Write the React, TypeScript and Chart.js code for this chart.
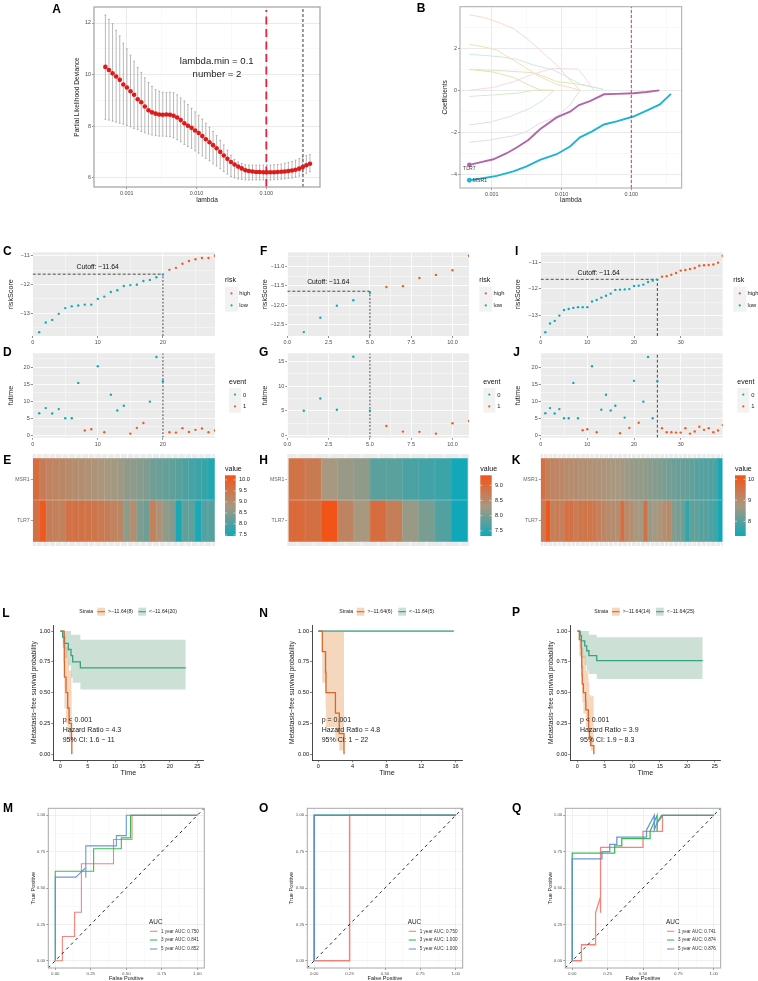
import React, { useEffect, useRef } from 'react';
import { Chart, registerables } from 'chart.js';
Chart.register(...registerables);

const FONT = '"Liberation Sans", Arial, sans-serif';
Chart.defaults.font.family = FONT;

// ---------- Panel A: cross-validation curve ----------
const cvLogLambda = [-3.305,-3.254,-3.202,-3.151,-3.099,-3.048,-2.997,-2.945,-2.894,-2.842,-2.791,-2.740,-2.688,-2.637,-2.585,-2.534,-2.483,-2.431,-2.380,-2.328,-2.277,-2.226,-2.174,-2.123,-2.071,-2.020,-1.969,-1.917,-1.866,-1.814,-1.763,-1.712,-1.660,-1.609,-1.557,-1.506,-1.455,-1.403,-1.352,-1.300,-1.249,-1.198,-1.146,-1.095,-1.043,-0.992,-0.941,-0.889,-0.838,-0.786,-0.735,-0.684,-0.632,-0.581,-0.529,-0.478,-0.427,-0.375];
const cvMean = [10.30,10.18,10.05,9.93,9.80,9.62,9.50,9.36,9.22,9.05,8.93,8.77,8.62,8.54,8.49,8.46,8.45,8.46,8.45,8.41,8.34,8.24,8.12,8.02,7.94,7.84,7.74,7.62,7.50,7.38,7.27,7.15,7.01,6.87,6.74,6.62,6.52,6.44,6.37,6.30,6.27,6.25,6.23,6.23,6.22,6.22,6.22,6.22,6.23,6.24,6.25,6.27,6.29,6.32,6.36,6.42,6.49,6.55];
const cvUpper = [12.31,12.14,11.97,11.72,11.50,11.22,11.00,10.75,10.52,10.28,10.08,9.88,9.70,9.55,9.42,9.36,9.32,9.31,9.32,9.30,9.22,9.10,8.98,8.84,8.70,8.56,8.42,8.28,8.12,7.96,7.80,7.64,7.46,7.28,7.08,6.88,6.72,6.62,6.56,6.52,6.50,6.50,6.50,6.50,6.50,6.50,6.50,6.51,6.52,6.54,6.57,6.60,6.64,6.69,6.75,6.82,6.87,6.90];
const cvLower = [8.27,8.24,8.20,8.16,8.12,8.08,8.03,7.98,7.92,7.87,7.80,7.75,7.70,7.66,7.64,7.62,7.62,7.61,7.60,7.56,7.48,7.40,7.30,7.22,7.15,7.05,6.96,6.85,6.76,6.66,6.55,6.46,6.36,6.25,6.15,6.06,6.00,5.96,5.94,5.93,5.92,5.92,5.92,5.92,5.92,5.92,5.92,5.93,5.94,5.95,5.96,5.98,6.00,6.03,6.07,6.12,6.18,6.24];
const lambdaMin = -1;
const lambda1se = -0.475;

// ---------- Panel B: coefficient paths ----------
const msr1X = [-3.32,-3.167,-2.928,-2.69,-2.499,-2.308,-2.069,-1.878,-1.735,-1.568,-1.391,-1.21,-0.971,-0.78,-0.59,-0.432];
const msr1Y = [-4.29,-4.22,-4.08,-3.87,-3.63,-3.32,-3.05,-2.68,-2.24,-1.97,-1.63,-1.48,-1.25,-0.97,-0.67,-0.17];
const tlr7X = [-3.32,-3.167,-2.976,-2.785,-2.642,-2.475,-2.308,-2.069,-1.878,-1.749,-1.592,-1.391,-1.21,-0.971,-0.78,-0.599];
const tlr7Y = [-3.56,-3.44,-3.29,-3.0,-2.73,-2.37,-1.86,-1.29,-1.02,-0.70,-0.51,-0.19,-0.17,-0.14,-0.08,0];
const paleA_X = [-3.32,-3.119,-2.881,-2.69,-2.499,-2.308,-2.069,-1.878,-1.735];
const paleA_Y = [3.60,3.48,3.22,2.95,2.48,1.92,1.21,0.49,0];
const paleB_X = [-3.32,-3.119,-2.928,-2.69,-2.499,-2.308,-2.069,-1.878,-1.735];
const paleB_Y = [2.19,2.08,1.92,1.44,1.05,0.65,0.29,0.14,0];
const paleC_X = [-3.32,-3.119,-2.881,-2.642,-2.403,-2.117,-1.926,-1.735,-1.401];
const paleC_Y = [1.71,1.67,1.60,1.48,1.21,0.97,0.65,0.30,0.05];
const paleD_X = [-3.32,-2.881,-2.403,-2.212,-2.069,-1.831,-1.64,-1.401];
const paleD_Y = [1.0,0.94,0.84,0.62,0.41,0.33,0.21,0.05];
const paleE_X = [-3.32,-2.976,-2.69,-2.499,-2.308,-2.117];
const paleE_Y = [1.0,0.87,0.62,0.30,0.02,0];
const paleF_X = [-3.32,-2.976,-2.69,-2.403,-2.117,-1.878,-1.759,-1.64,-1.535];
const paleF_Y = [0,0.14,0.41,0.78,1.05,1.02,1.02,0.49,0];
const paleG_X = [-3.32,-2.976,-2.642,-2.403,-2.117];
const paleG_Y = [-0.29,-0.22,-0.14,0,0];
const paleH_X = [-3.32,-3.024,-2.737,-2.451,-2.26,-2.107];
const paleH_Y = [-1.65,-1.52,-1.25,-0.86,-0.46,0];
const paleI_X = [-3.32,-3.024,-2.69,-2.499,-2.308,-2.069,-1.878,-1.735];
const paleI_Y = [-2.48,-2.37,-2.17,-1.97,-1.57,-1.25,-0.70,0];
const paleColors = ['#f9d9ca','#f6deba','#cdeadf','#dde7bd','#e8e0b8','#f8dae3','#d8e8cc','#d4e3f4','#dfdef2'];

// ---------- Panels C-K: risk score, follow-up, heat maps ----------
const riskC = [-13.66,-13.32,-13.23,-13.02,-12.82,-12.76,-12.73,-12.70,-12.70,-12.5,-12.42,-12.26,-12.2,-12.05,-12.02,-12.01,-11.88,-11.84,-11.75,-11.65,-11.49,-11.42,-11.28,-11.18,-11.12,-11.08,-11.08,-11.0];
const futimeC = [6.5,8.0,6.4,7.7,5,5,15.4,1.4,1.8,20.3,0.9,11.9,7.3,8.7,0.5,2.2,3.6,9.9,23,15.9,0.9,0.8,2.1,1.0,1.6,2.0,0.9,1.4];
const eventC = [0,0,0,0,0,0,0,1,1,0,1,0,0,0,1,1,1,0,0,0,1,1,1,1,1,1,1,1];
const msrC = [9.7,9.4,9.25,9.2,9.15,9.1,9.05,9.0,8.95,8.9,8.85,8.8,8.75,8.7,8.6,8.55,8.5,8.45,8.3,8.25,8.2,8.15,8.1,8.0,7.9,7.85,7.8,7.6];
const tlrC = [9.6,10.15,9.35,9.3,9.3,9.6,9.6,9.6,9.55,9.5,9.45,9.35,9.25,9.15,8.55,9.05,8.4,8.3,9.3,8.95,8.6,8.45,7.55,8.15,8.15,7.55,8.05,8.05];

const riskF = [-12.69,-12.32,-12.01,-11.87,-11.68,-11.53,-11.51,-11.3,-11.22,-11.10,-10.73];
const futimeF = [5,7.5,5.2,16,5,1.9,0.75,0.7,0.35,2.45,2.9];
const eventF = [0,0,0,0,0,1,1,1,1,1,1];
const msrF = [8.85,8.75,8.3,8.2,8.15,7.8,7.8,7.7,7.65,7.6,7.35];
const tlrF = [9.0,8.9,9.33,8.6,8.3,8.95,8.7,8.2,8.0,7.75,7.33];

const riskI = [-13.64,-13.31,-13.21,-13.01,-12.8,-12.76,-12.72,-12.69,-12.69,-12.69,-12.48,-12.42,-12.33,-12.26,-12.18,-12.04,-12.03,-12.02,-12.01,-11.89,-11.88,-11.84,-11.74,-11.69,-11.65,-11.54,-11.52,-11.47,-11.4,-11.31,-11.29,-11.25,-11.21,-11.13,-11.11,-11.1,-11.08,-11.01,-10.75];
const futimeI = [6.5,8,6.4,7.7,5,5,15.4,5,1.5,1.8,20.3,0.9,7.5,11.9,7.3,8.7,0.6,5.2,2.2,16,3.7,9.9,23,5,15.9,2.1,0.9,0.9,0.8,0.8,2.1,0.5,1.1,2.5,1.6,2.1,0.9,1.4,3.0];
const eventI = [0,0,0,0,0,0,0,0,1,1,0,1,0,0,0,0,1,0,1,0,1,0,0,0,0,1,1,1,1,1,1,1,1,1,1,1,1,1,1];
const msrI = [9.6,9.25,9.2,9.15,9.1,9.05,9.0,9.0,8.95,8.95,8.9,8.9,8.85,8.85,8.8,8.75,8.75,8.7,8.65,8.6,8.55,8.55,8.5,8.45,8.4,8.35,8.3,8.25,8.2,8.15,8.15,8.1,8.05,8.0,7.95,7.95,7.9,7.85,7.35];
const tlrI = [9.35,10.15,9.3,9.35,9.25,9.6,9.6,9.35,9.5,9.5,9.5,9.45,9.25,9.15,9.05,9.0,8.95,9.55,9.05,8.95,8.8,8.7,9.55,8.6,8.7,8.8,8.95,9.05,8.4,8.3,8.2,7.6,8.05,8.05,7.95,8.0,7.85,7.75,7.32];

// ---------- Panels L, N, P: survival curves ----------
const kmLHighT = [0,0.7,0.72,0.75,1.04,1.35,1.6,2.05,2.1];
const kmLHighS = [1,0.875,0.75,0.625,0.5,0.375,0.25,0.125,0];
const kmLHighU = [1,1,1,0.96,0.87,0.78,0.68,0.52,0.52];
const kmLHighD = [1,0.72,0.55,0.37,0.25,0.2,0.1,0.08,0.08];
const kmLLowT = [0,0.43,0.73,1.46,1.95,2.25,3.66,22.9];
const kmLLowS = [1,0.95,0.9,0.85,0.8,0.75,0.7,0.7];
const kmLLowU = [1,1,1,1,0.97,0.97,0.93,0.93];
const kmLLowD = [1,0.86,0.78,0.72,0.62,0.58,0.525,0.525];

const kmNHighT = [0,0.47,0.85,0.9,2.0,2.45,3.0];
const kmNHighS = [1,0.833,0.667,0.5,0.333,0.167,0];
const kmNHighU = [1,1,1,1,1,1,1];
const kmNHighD = [1,0.58,0.38,0.22,0.1,0.03,0.03];
const kmNLowT = [0,15.8];
const kmNLowS = [1,1];

const kmPHighT = [0,0.36,0.7,0.75,0.8,0.85,0.9,1.1,1.5,1.55,2.0,2.05,2.2,2.45,3.0];
const kmPHighS = [1,0.93,0.86,0.79,0.71,0.64,0.57,0.5,0.43,0.36,0.29,0.21,0.14,0.07,0];
const kmPHighU = [1,1,0.98,0.95,0.92,0.9,0.86,0.8,0.72,0.68,0.62,0.58,0.48,0.47,0.47];
const kmPHighD = [1,0.8,0.7,0.62,0.55,0.48,0.42,0.33,0.27,0.22,0.17,0.12,0.07,0.03,0.03];
const kmPLowT = [0,0.5,0.75,1.35,1.7,2.1,3.53,22.8];
const kmPLowS = [1,0.96,0.92,0.88,0.84,0.8,0.76,0.76];
const kmPLowU = [1,1,1,1,1,0.97,0.95,0.95];
const kmPLowD = [1,0.87,0.78,0.72,0.68,0.65,0.61,0.61];

// ---------- Panels M, O, Q: ROC curves ----------
const rocM1x = [0,0.05,0.05,0.136,0.136,0.184,0.184,0.41,0.41,0.54,0.54,1];
const rocM1y = [0,0,0.167,0.167,0.333,0.333,0.667,0.667,0.833,0.833,1,1];
const rocM3x = [0,0,0.27,0.27,0.465,0.465,0.53,0.53,1];
const rocM3y = [0,0.615,0.615,0.77,0.77,0.845,0.845,1,1];
const rocM5x = [0,0,0.145,0.215,0.215,0.215,0.43,0.43,0.5,0.5,1];
const rocM5y = [0,0.575,0.575,0.64,0.57,0.79,0.79,0.86,0.86,1,1];
const rocO1x = [0,0.25,0.25,1];
const rocO1y = [0,0,1,1];
const rocO3x = [0,0,1];
const rocO3y = [0,1,1];
const rocO5x = [0,0,1];
const rocO5y = [0,1,1];
const rocQ1x = [0,0.065,0.065,0.165,0.165,0.2,0.2,0.2,0.5,0.5,0.635,0.635,0.64,1];
const rocQ1y = [0,0,0.11,0.11,0.33,0.44,0.33,0.78,0.78,0.89,0.89,0.95,1,1];
const rocQ3x = [0,0,0.30,0.30,0.35,0.35,0.55,0.55,0.6,0.6,0.6,0.64,1];
const rocQ3y = [0,0.74,0.74,0.79,0.79,0.84,0.84,0.89,1,0.89,0.95,1,1];
const rocQ5x = [0,0,0.21,0.21,0.265,0.265,0.315,0.315,0.525,0.525,0.58,0.58,0.6,0.63,1];
const rocQ5y = [0,0.70,0.70,0.75,0.75,0.80,0.80,0.85,0.85,0.9,1,0.9,0.95,1,1];

const cutoffValue = -11.64;
const cutoffText = 'Cutoff: −11.64';

// ---------- colours ----------
const HIGH = '#f15a22';
const LOW = '#14a9b8';
const HEAT_LOW = [16, 168, 184];
const HEAT_MID = [168, 152, 128];
const HEAT_HIGH = [242, 84, 24];
const KM_O = '#d9662a';
const KM_G = '#38a17d';
const BAND_O = 'rgba(232,160,100,0.42)';
const BAND_G = 'rgba(70,140,105,0.27)';
const ROC_R = 'rgba(244,110,100,0.85)';
const ROC_G = 'rgba(40,178,72,0.9)';
const ROC_B = 'rgba(90,140,215,0.9)';

const pts = (xs: number[], ys: number[]) => xs.map((x, i) => ({ x, y: ys[i] }));
const minus = (s: string) => s.replace('-', '−');
const mixRgb = (a: number[], b: number[], f: number) =>
  `rgb(${a.map((c, i) => Math.round(c + (b[i] - c) * f)).join(',')})`;
const heatColor = (v: number, d: number[]) =>
  v <= d[1]
    ? mixRgb(HEAT_LOW, HEAT_MID, Math.max(0, (v - d[0]) / (d[1] - d[0])))
    : mixRgb(HEAT_MID, HEAT_HIGH, Math.min(1, (v - d[1]) / (d[2] - d[1])));

// Builds one scale with a fixed thickness, so the plot area lands where it should.
function axis(a: any) {
  const all = [...a.major, ...(a.minor || [])].sort((p, q) => p - q);
  const isMajor = (v: number) => a.major.some((m: number) => Math.abs(m - v) < 1e-9);
  const horizontal = a.horizontal;
  return {
    type: 'linear',
    min: a.min,
    max: a.max,
    offset: false,
    afterBuildTicks: (s: any) => {
      s.ticks = all.map((v: number) => ({ value: v }));
    },
    afterFit: (s: any) => {
      if (s.isHorizontal()) s.height = a.size;
      else s.width = a.size;
    },
    ticks: {
      autoSkip: false,
      maxRotation: 0,
      minRotation: 0,
      includeBounds: false,
      padding: a.tickPad ?? 1,
      color: a.tickColor || '#4d4d4d',
      font: { size: a.tickSize || 5.5 },
      callback: (v: number) => (isMajor(v) ? a.fmt(v) : ''),
    },
    grid: {
      offset: false,
      drawOnChartArea: a.gridMajor !== undefined,
      color: (c: any) => (c.tick && isMajor(c.tick.value) ? a.gridMajor : a.gridMinor),
      lineWidth: (c: any) => (c.tick && isMajor(c.tick.value) ? a.gridW ?? 0.8 : a.gridMinorW ?? 0.4),
      tickColor: (c: any) => (c.tick && isMajor(c.tick.value) && !a.noTick ? a.tickMark || '#555' : 'rgba(0,0,0,0)'),
      tickWidth: 0.6,
      tickLength: a.noTick ? 0 : 2,
    },
    border: { display: !!a.line, color: a.line, width: 0.9 },
    title: a.title
      ? {
          display: true,
          text: a.title,
          color: a.titleColor || '#222',
          font: { size: a.titleSize || 7 },
          padding: horizontal
            ? { top: 0, bottom: a.titleOffset }
            : { top: a.titleOffset, bottom: 0 },
        }
      : { display: false },
  };
}

const line = (data: any[], color: string, width: number, extra: any = {}) => ({
  data,
  showLine: true,
  borderColor: color,
  borderWidth: width,
  pointRadius: 0,
  fill: false,
  ...extra,
});
const dots = (data: any[], color: string, r: number) => ({
  data,
  showLine: false,
  backgroundColor: color,
  borderWidth: 0,
  pointRadius: r,
});

const text = (s: string, x: number, y: number, size: number, extra: any = {}) => ({ t: 'text', s, x, y, size, ...extra });

function riskLegend(x0: number) {
  return [
    text('risk', x0, 280, 7, { color: '#111' }),
    { t: 'rect', x: x0, y: 286.7, w: 13, h: 25, fill: '#f2f2f2' },
    { t: 'dot', x: x0 + 6.5, y: 293.4, r: 1.1, fill: HIGH },
    { t: 'dot', x: x0 + 6.5, y: 305.4, r: 1.1, fill: LOW },
    text('high', x0 + 14.3, 293.7, 5.8),
    text('low', x0 + 14.3, 305.7, 5.8),
  ];
}
function eventLegend(x0: number) {
  return [
    text('event', x0 + 4, 381.7, 7, { color: '#111' }),
    { t: 'rect', x: x0 + 4, y: 388, w: 12, h: 24.7, fill: '#f2f2f2' },
    { t: 'dot', x: x0 + 10, y: 394.6, r: 1.1, fill: LOW },
    { t: 'dot', x: x0 + 10, y: 406.4, r: 1.1, fill: HIGH },
    text('0', x0 + 18, 395, 5.8),
    text('1', x0 + 18, 406.7, 5.8),
  ];
}
function colorbar(x: number, w: number, dom: number[], ticks: number[], digits: number, labelX: number) {
  return [
    text('value', x, 468.7, 7, { color: '#111' }),
    { t: 'bar', x, w, top: 475.3, bot: 536, dom, ticks, digits, labelX },
  ];
}

const Y_RISK: [number, number] = [252.3, 336];
const Y_FUT: [number, number] = [353.3, 437.7];
const Y_HEAT: [number, number] = [454, 546];

function riskPanel(colBox: number[], plotX: number[], xr: any, yr: any, risk: number[], cut: number, labelX: number, labelY: number, titleX: number, legendX: number, dash: number[]) {
  const idx = risk.map((_, i) => i + 1);
  const lowPts = pts(idx.slice(0, cut), risk.slice(0, cut));
  const highPts = pts(idx.slice(cut), risk.slice(cut));
  return {
    box: [colBox[0], 245, colBox[1], 346],
    plot: [plotX[0], Y_RISK[0], plotX[1], Y_RISK[1]],
    bg: '#ebebeb',
    x: { ...xr, horizontal: true, size: 346 - Y_RISK[1], gridMajor: '#fff', gridMinor: '#fff', tickMark: '#444' },
    y: {
      ...yr,
      size: plotX[0] - colBox[0],
      gridMajor: '#fff',
      gridMinor: '#fff',
      tickMark: '#444',
      title: 'riskScore',
      titleSize: 7.2,
      titleOffset: titleX - colBox[0] - 4.3,
    },
    datasets: [
      dots(highPts, HIGH, 1.2),
      dots(lowPts, LOW, 1.2),
      line(pts([0, cut], [cutoffValue, cutoffValue]), '#222', 0.8, { borderDash: [3, 2] }),
      line(pts([cut, cut], [yr.min, cutoffValue]), '#333', 0.9, { borderDash: dash }),
    ],
    items: [text(cutoffText, labelX, labelY, 6.8, { align: 'center', color: '#111' }), ...riskLegend(legendX)],
  };
}

function futPanel(colBox: number[], plotX: number[], xr: any, yr: any, fut: number[], ev: number[], cut: number, titleX: number, legendX: number, dash: number[]) {
  const idx = fut.map((_, i) => i + 1);
  const pick = (e: number) => pts(idx.filter((_, i) => ev[i] === e), fut.filter((_, i) => ev[i] === e));
  return {
    box: [colBox[0], 346, colBox[1], 450],
    plot: [plotX[0], Y_FUT[0], plotX[1], Y_FUT[1]],
    bg: '#ebebeb',
    x: { ...xr, horizontal: true, size: 450 - Y_FUT[1], gridMajor: '#fff', gridMinor: '#fff', tickMark: '#444' },
    y: {
      ...yr,
      size: plotX[0] - colBox[0],
      gridMajor: '#fff',
      gridMinor: '#fff',
      tickMark: '#444',
      title: 'futime',
      titleSize: 7.2,
      titleOffset: titleX - colBox[0] - 4.3,
    },
    datasets: [dots(pick(0), LOW, 1.2), dots(pick(1), HIGH, 1.2), line(pts([cut, cut], [yr.min, yr.max]), '#333', 0.9, { borderDash: dash })],
    items: eventLegend(legendX),
  };
}

function heatPanel(colBox: number[], plotX: number[], msr: number[], tlr: number[], pad: number, dom: number[], barX: number, barW: number, ticks: number[], digits: number, labelX: number) {
  const n = msr.length;
  const idx = msr.map((_, i) => i + 1);
  const style = (vals: number[]) => ({
    backgroundColor: vals.map((v) => heatColor(v, dom)),
    borderWidth: 0,
    barPercentage: 1,
    categoryPercentage: 1,
    grouped: false,
  });
  return {
    type: 'bar',
    box: [colBox[0], 450, colBox[1], 552],
    plot: [plotX[0], Y_HEAT[0], plotX[1], Y_HEAT[1]],
    bg: '#ebebeb',
    seams: n,
    x: { min: 0.5 - pad, max: n + 0.5 + pad, major: idx, fmt: () => '', horizontal: true, size: 552 - Y_HEAT[1], gridMajor: '#fff', gridMinor: '#fff', noTick: true },
    y: {
      min: -0.11,
      max: 2.11,
      major: [0.5, 1.5],
      fmt: (v: number) => (v > 1 ? 'MSR1' : 'TLR7'),
      size: plotX[0] - colBox[0],
      gridMajor: 'rgba(255,255,255,0)',
      gridMinor: '#fff',
      tickSize: 5.2,
      tickColor: '#666',
      tickMark: '#666',
    },
    datasets: [
      { data: idx.map((x) => ({ x, y: [1, 2] })), ...style(msr) },
      { data: idx.map((x) => ({ x, y: [0, 1] })), ...style(tlr) },
    ],
    items: colorbar(barX, barW, dom, ticks, digits, labelX),
  };
}

function kmBand(t: number[], lo: number[], hi: number[], color: string) {
  return [
    { ...line(pts(t, lo), 'rgba(0,0,0,0)', 0), stepped: true },
    { ...line(pts(t, hi), 'rgba(0,0,0,0)', 0), stepped: true, fill: '-1', backgroundColor: color },
  ];
}

function kmPanel(box: number[], plotX: number[], x: any, titleX: number, lines: string[], textX: number, legend: any, datasets: any[]) {
  const top = 625;
  const bot = 760.3;
  return {
    box,
    plot: [plotX[0], top, plotX[1], bot],
    x: { ...x, horizontal: true, size: box[3] - bot, line: '#333', tickColor: '#111', tickMark: '#333', tickSize: 5.6, title: 'Time', titleSize: 7.2, titleOffset: box[3] - 772.7 - 4.3 },
    y: {
      min: -0.05,
      max: 1.049,
      major: [0, 0.25, 0.5, 0.75, 1],
      fmt: (v: number) => v.toFixed(2),
      size: plotX[0] - box[0],
      line: '#333',
      tickColor: '#111',
      tickMark: '#333',
      tickSize: 5.6,
      title: 'Metastasis−free survival probability',
      titleSize: 6.6,
      titleOffset: titleX - box[0] - 4,
    },
    datasets,
    items: [
      text(lines[0], textX, 720, 7),
      text(lines[1], textX, 730, 7),
      text(lines[2], textX, 740.3, 7),
      text('Strata', legend.strata, 611.7, 5.2),
      { t: 'rect', x: legend.k1, y: 607.7, w: 7.7, h: 8, fill: BAND_O },
      { t: 'line', x1: legend.k1, y1: 611.7, x2: legend.k1 + 7.7, y2: 611.7, color: KM_O, w: 1.1 },
      text(legend.l1, legend.k1 + 10.7, 611.7, 5.2),
      { t: 'rect', x: legend.k2, y: 607.7, w: 7.7, h: 8, fill: BAND_G },
      { t: 'line', x1: legend.k2, y1: 611.7, x2: legend.k2 + 7.7, y2: 611.7, color: KM_G, w: 1.1 },
      text(legend.l2, legend.k2 + 10.7, 611.7, 5.2),
    ],
  };
}

function rocPanel(box: number[], plotX: number[], titleX: number, legendX: number, series: any[], labels: string[], width: number) {
  const top = 808.3;
  const bot = 968;
  const major = [0, 0.25, 0.5, 0.75, 1];
  const minor = [0.125, 0.375, 0.625, 0.875];
  const g = { gridMajor: '#e6e6e6', gridMinor: '#f2f2f2', gridW: 0.6, gridMinorW: 0.4, tickColor: '#555', tickMark: '#555', tickSize: 4.4 };
  const cols = [ROC_R, ROC_G, ROC_B];
  return {
    box,
    plot: [plotX[0], top, plotX[1], bot],
    frame: { color: '#a8a8a8', w: 1 },
    x: { ...g, min: -0.049, max: 1.049, major, minor, fmt: (v: number) => v.toFixed(2), horizontal: true, size: box[3] - bot, title: 'False Positive', titleSize: 5.6, titleOffset: box[3] - 978 - 3.4 },
    y: { ...g, min: -0.05, max: 1.048, major, minor, fmt: (v: number) => v.toFixed(2), size: plotX[0] - box[0], title: 'True Positive', titleSize: 5.6, titleOffset: titleX - box[0] - 3.4 },
    datasets: [
      line(pts([-0.05, 1.05], [-0.05, 1.05]), '#111', 0.9, { borderDash: [3, 3.5] }),
      line(pts(series[2][0], series[2][1]), cols[2], width),
      line(pts(series[1][0], series[1][1]), cols[1], width),
      line(pts(series[0][0], series[0][1]), cols[0], width),
    ],
    items: [
      text('AUC', legendX, 922, 6.4),
      ...[931.3, 940, 949].flatMap((y, i) => [
        { t: 'line', x1: legendX + 1, y1: y, x2: legendX + 8.3, y2: y, color: cols[i], w: 1.1 },
        text(labels[i], legendX + 12, y, 4.6, { color: '#333' }),
      ]),
    ],
  };
}

const lamFmt = (v: number) => Math.pow(10, v).toFixed(3);
const lamMajor = [-3, -2, -1];
const lamMinor = [-2.5, -1.5, -0.5];
const pale = [
  [paleA_X, paleA_Y],
  [paleB_X, paleB_Y],
  [paleC_X, paleC_Y],
  [paleD_X, paleD_Y],
  [paleE_X, paleE_Y],
  [paleF_X, paleF_Y],
  [paleG_X, paleG_Y],
  [paleH_X, paleH_Y],
  [paleI_X, paleI_Y],
];

const xC = { min: 0, max: 28, major: [0, 10, 20], minor: [5, 15, 25], fmt: String };
const xF = { min: 0, max: 11, major: [0, 2.5, 5, 7.5, 10], minor: [1.25, 3.75, 6.25, 8.75], fmt: (v: number) => v.toFixed(1) };
const xI = { min: 0, max: 39, major: [0, 10, 20, 30], minor: [5, 15, 25, 35], fmt: String };
const yRiskC = { min: -13.79, max: -10.88, major: [-13, -12, -11], minor: [-13.5, -12.5, -11.5], fmt: (v: number) => minus(String(v)) };
const yRiskF = { min: -12.79, max: -10.64, major: [-12.5, -12, -11.5, -11], minor: [-12.25, -11.75, -11.25, -10.75], fmt: (v: number) => minus(v.toFixed(1)) };
const yRiskI = { min: -13.78, max: -10.62, major: [-13, -12, -11], minor: [-13.5, -12.5, -11.5, -10.75], fmt: (v: number) => minus(String(v)) };
const yFut20 = { min: -0.7, max: 24.1, major: [0, 5, 10, 15, 20], minor: [2.5, 7.5, 12.5, 17.5, 22.5], fmt: String };
const yFut15 = { min: -0.49, max: 16.7, major: [0, 5, 10, 15], minor: [2.5, 7.5, 12.5], fmt: String };

const kmDs = (hT: number[], hS: number[], hU: number[], hD: number[], lT: number[], lS: number[], lU: number[] | null, lD: number[] | null) => [
  { ...line(pts(hT, hS), KM_O, 1.3), stepped: true },
  { ...line(pts(lT, lS), lU ? KM_G : '#6ab59f', lU ? 1.3 : 1.7), stepped: true },
  ...kmBand(hT, hD, hU, BAND_O),
  ...(lU && lD ? kmBand(lT, lD, lU, BAND_G) : []),
];

const panels: any[] = [
  {
    box: [66, 0, 330, 210],
    plot: [94, 7, 320, 187],
    frame: { color: '#a8a8a8', w: 1.3 },
    x: { min: -3.468, max: -0.231, major: lamMajor, minor: lamMinor, fmt: lamFmt, horizontal: true, size: 23, gridMajor: '#e4e4e4', gridMinor: '#efefef', tickSize: 5.4, title: 'lambda', titleSize: 6.6, titleOffset: 210 - 200 - 4 },
    y: { min: 5.65, max: 12.62, major: [6, 8, 10, 12], minor: [7, 9, 11], fmt: String, size: 28, gridMajor: '#e4e4e4', gridMinor: '#efefef', tickSize: 5.4, title: 'Partial Likelihood Deviance', titleSize: 6.6, titleOffset: 77.7 - 66 - 4 },
    err: { x: cvLogLambda, up: cvUpper, lo: cvLower },
    datasets: [
      dots(pts(cvLogLambda, cvMean), '#dc1c1c', 2.3),
      line(pts([lambdaMin, lambdaMin], [5.65, 12.5]), '#f01f3c', 1.8, { borderDash: [8, 4.5] }),
      line(pts([lambda1se, lambda1se], [5.65, 12.62]), '#666', 1.3, { borderDash: [3, 2] }),
    ],
    items: [
      text('lambda.min = 0.1', 216.7, 61, 9.6, { align: 'center', color: '#222' }),
      text('number = 2', 217, 74, 9.6, { align: 'center', color: '#222' }),
    ],
  },
  {
    box: [430, 0, 700, 210],
    plot: [460, 6.7, 681.7, 188],
    frame: { color: '#a8a8a8', w: 1 },
    x: { min: -3.454, max: -0.278, major: lamMajor, minor: lamMinor, fmt: lamFmt, horizontal: true, size: 22, gridMajor: '#e4e4e4', gridMinor: '#efefef', tickSize: 5.4, title: 'lambda', titleSize: 6.6, titleOffset: 210 - 200 - 4 },
    y: { min: -4.66, max: 3.99, major: [-4, -2, 0, 2], minor: [-3, -1, 1, 3], fmt: (v: number) => minus(String(v)), size: 30, gridMajor: '#e4e4e4', gridMinor: '#efefef', tickSize: 5.4, title: 'Coefficients', titleSize: 6.6, titleOffset: 445 - 430 - 4 },
    datasets: [
      dots(pts([tlr7X[0]], [tlr7Y[0]]), '#b565a7', 2.4),
      dots(pts([msr1X[0]], [msr1Y[0]]), '#1fb3d5', 2.4),
      line(pts([lambdaMin, lambdaMin], [-4.66, 3.99]), '#d62828', 0.9, { borderDash: [3, 2] }),
      line(pts(msr1X, msr1Y), '#1fb3d5', 1.9),
      line(pts(tlr7X, tlr7Y), '#b565a7', 1.9),
      ...pale.map((p, i) => line(pts(p[0], p[1]), paleColors[i], 1)),
    ],
    items: [text('TLR7', 469.3, 169, 5.2, { align: 'center', color: '#444' }), text('MSR1', 480, 181, 5.2, { align: 'center', color: '#444' })],
  },
  riskPanel([0, 258], [32.7, 215], xC, yRiskC, riskC, 20, 97.7, 267.3, 11, 225, [2, 1.6]),
  futPanel([0, 258], [32.7, 215], xC, yFut20, futimeC, eventC, 20, 11, 225, [2, 1.6]),
  heatPanel([0, 258], [32.7, 215], msrC, tlrC, 0.09, [7.45, 8.8, 10.21], 225, 10.7, [7.5, 8, 8.5, 9, 9.5, 10], 1, 239),
  riskPanel([250, 505], [287.3, 469], xF, yRiskF, riskF, 5, 328.3, 281.7, 265, 479.3, [2, 1.6]),
  futPanel([250, 505], [287.3, 469], xF, yFut15, futimeF, eventF, 5, 265, 479.3, [2, 1.6]),
  heatPanel([250, 505], [287.3, 469], msrF, tlrF, 0.1, [7.33, 8.3, 9.33], 480.3, 11.4, [7.5, 8, 8.5, 9], 1, 495),
  riskPanel([505, 758], [540.7, 722.7], xI, yRiskI, riskI, 25, 598.7, 273.3, 518.3, 733.3, [3, 2]),
  futPanel([505, 758], [540.7, 722.7], xI, yFut20, futimeI, eventI, 25, 518.3, 733.3, [3, 2]),
  heatPanel([505, 758], [540.7, 722.7], msrI, tlrI, 0.08, [7.3, 8.75, 10.19], 735, 10.7, [8, 9, 10], 0, 748),
  kmPanel([20, 600, 240, 785], [53.3, 203.3], { min: -1.28, max: 26.1, major: [0, 5, 10, 15, 20, 25], fmt: String }, 34.3,
    ['p < 0.001', 'Hazard Ratio = 4.3', '95% CI: 1.6 − 11'], 62.7,
    { strata: 79.3, k1: 97.3, k2: 138.3, l1: '>−11.64(8)', l2: '<−11.64(20)' },
    kmDs(kmLHighT, kmLHighS, kmLHighU, kmLHighD, kmLLowT, kmLLowS, kmLLowU, kmLLowD)),
  kmPanel([275, 600, 490, 785], [312, 462], { min: -0.73, max: 16.75, major: [0, 4, 8, 12, 16], fmt: String }, 292.7,
    ['p = 0.001', 'Hazard Ratio = 4.8', '95% CI: 1 − 22'], 321.7,
    { strata: 339.3, k1: 356.7, k2: 398.3, l1: '>−11.64(6)', l2: '<−11.64(5)' },
    kmDs(kmNHighT, kmNHighS, kmNHighU, kmNHighD, kmNLowT, kmNLowS, null, null)),
  kmPanel([535, 600, 755, 785], [570.3, 720.3], { min: -1.28, max: 26, major: [0, 5, 10, 15, 20, 25], fmt: String }, 551,
    ['p < 0.001', 'Hazard Ratio = 3.9', '95% CI: 1.9 − 8.3'], 580,
    { strata: 594.3, k1: 612, k2: 656, l1: '>−11.64(14)', l2: '<−11.64(25)' },
    kmDs(kmPHighT, kmPHighS, kmPHighU, kmPHighD, kmPLowT, kmPLowS, kmPLowU, kmPLowD)),
  rocPanel([20, 800, 240, 981], [48.3, 204.3], 33.3, 149, [[rocM1x, rocM1y], [rocM3x, rocM3y], [rocM5x, rocM5y]],
    ['1 year AUC: 0.750', '3 year AUC: 0.841', '5 year AUC: 0.852'], 1.1),
  rocPanel([280, 800, 490, 981], [307.3, 462.7], 291.7, 407.7, [[rocO1x, rocO1y], [rocO3x, rocO3y], [rocO5x, rocO5y]],
    ['1 year AUC: 0.750', '3 year AUC: 1.000', '5 year AUC: 1.000'], 1.5),
  rocPanel([535, 800, 750, 981], [565.3, 720.7], 550, 666, [[rocQ1x, rocQ1y], [rocQ3x, rocQ3y], [rocQ5x, rocQ5y]],
    ['1 year AUC: 0.741', '3 year AUC: 0.874', '5 year AUC: 0.876'], 1.3),
];

const letters: [string, number, number][] = [
  ['A', 56.5, 9], ['B', 421, 8], ['C', 7.3, 250.7], ['D', 7.3, 352.3], ['E', 7.3, 460],
  ['F', 263.7, 250.7], ['G', 263.7, 352.3], ['H', 263.7, 460], ['I', 516.7, 250.7], ['J', 516.7, 352.3], ['K', 516, 460],
  ['L', 6, 612.7], ['N', 263.7, 612.7], ['P', 516, 612], ['M', 8, 808], ['O', 263.7, 808], ['Q', 516.7, 808],
];

function drawItems(ctx: CanvasRenderingContext2D, items: any[], ox: number, oy: number) {
  ctx.save();
  ctx.translate(-ox, -oy);
  for (const it of items) {
    if (it.t === 'rect') {
      ctx.fillStyle = it.fill;
      ctx.fillRect(it.x, it.y, it.w, it.h);
    } else if (it.t === 'dot') {
      ctx.fillStyle = it.fill;
      ctx.beginPath();
      ctx.arc(it.x, it.y, it.r, 0, Math.PI * 2);
      ctx.fill();
    } else if (it.t === 'line') {
      ctx.strokeStyle = it.color;
      ctx.lineWidth = it.w;
      ctx.beginPath();
      ctx.moveTo(it.x1, it.y1);
      ctx.lineTo(it.x2, it.y2);
      ctx.stroke();
    } else if (it.t === 'text') {
      ctx.fillStyle = it.color || '#222';
      ctx.font = `${it.size}px ${FONT}`;
      ctx.textAlign = it.align || 'left';
      ctx.textBaseline = 'middle';
      ctx.fillText(it.s, it.x, it.y);
    } else if (it.t === 'bar') {
      const d = it.dom;
      const yOf = (v: number) => it.bot - ((v - d[0]) / (d[2] - d[0])) * (it.bot - it.top);
      const g = ctx.createLinearGradient(0, it.bot, 0, it.top);
      g.addColorStop(0, heatColor(d[0], d));
      g.addColorStop((d[1] - d[0]) / (d[2] - d[0]), heatColor(d[1], d));
      g.addColorStop(1, heatColor(d[2], d));
      ctx.fillStyle = g;
      ctx.fillRect(it.x, it.top, it.w, it.bot - it.top);
      ctx.strokeStyle = '#fff';
      ctx.lineWidth = 0.5;
      for (const v of it.ticks) {
        const y = yOf(v);
        ctx.beginPath();
        ctx.moveTo(it.x, y);
        ctx.lineTo(it.x + 2.2, y);
        ctx.moveTo(it.x + it.w - 2.2, y);
        ctx.lineTo(it.x + it.w, y);
        ctx.stroke();
        ctx.fillStyle = '#222';
        ctx.font = `5.6px ${FONT}`;
        ctx.textAlign = 'left';
        ctx.textBaseline = 'middle';
        ctx.fillText(v.toFixed(it.digits), it.labelX, y);
      }
    }
  }
  ctx.restore();
}

export default function App() {
  const refs = useRef<(HTMLCanvasElement | null)[]>([]);
  useEffect(() => {
    document.body.style.margin = '0';
    const charts = panels.map((p, i) => {
      const [bl, bt, br, bb] = p.box;
      const [pl, pt, pr, pb] = p.plot;
      const plugin = {
        id: 'panelExtras',
        beforeDraw(chart: any) {
          if (p.bg) {
            const a = chart.chartArea;
            chart.ctx.fillStyle = p.bg;
            chart.ctx.fillRect(a.left, a.top, a.width, a.height);
          }
        },
        beforeDatasetsDraw(chart: any) {
          if (!p.err) return;
          const { ctx, scales } = chart;
          ctx.save();
          ctx.strokeStyle = '#8a8a8a';
          ctx.lineWidth = 0.6;
          p.err.x.forEach((x: number, k: number) => {
            const px = scales.x.getPixelForValue(x);
            const u = scales.y.getPixelForValue(p.err.up[k]);
            const l = scales.y.getPixelForValue(p.err.lo[k]);
            ctx.beginPath();
            ctx.moveTo(px, u);
            ctx.lineTo(px, l);
            ctx.moveTo(px - 0.9, u);
            ctx.lineTo(px + 0.9, u);
            ctx.moveTo(px - 0.9, l);
            ctx.lineTo(px + 0.9, l);
            ctx.stroke();
          });
          ctx.restore();
        },
        afterDraw(chart: any) {
          const a = chart.chartArea;
          const c = chart.ctx;
          if (p.seams) {
            const { x, y } = chart.scales;
            c.save();
            c.strokeStyle = 'rgba(255,255,255,0.2)';
            c.lineWidth = 0.5;
            for (let k = 1; k < p.seams; k++) {
              const px = x.getPixelForValue(k + 0.5);
              c.beginPath();
              c.moveTo(px, y.getPixelForValue(0));
              c.lineTo(px, y.getPixelForValue(2));
              c.stroke();
            }
            c.strokeStyle = 'rgba(255,255,255,0.5)';
            c.lineWidth = 0.6;
            c.beginPath();
            c.moveTo(x.getPixelForValue(0.5), y.getPixelForValue(1));
            c.lineTo(x.getPixelForValue(p.seams + 0.5), y.getPixelForValue(1));
            c.stroke();
            c.restore();
          }
          if (p.frame) {
            c.strokeStyle = p.frame.color;
            c.lineWidth = p.frame.w;
            c.strokeRect(a.left, a.top, a.width, a.height);
          }
          drawItems(c, p.items || [], bl, bt);
        },
      };
      return new Chart(refs.current[i] as HTMLCanvasElement, {
        type: p.type || 'scatter',
        data: { datasets: p.datasets },
        options: {
          animation: false,
          responsive: false,
          maintainAspectRatio: false,
          events: [],
          layout: { padding: { top: pt - bt, right: br - pr, left: 0, bottom: 0 } },
          plugins: { legend: { display: false }, tooltip: { enabled: false }, title: { display: false } },
          scales: { x: axis({ ...p.x }), y: axis({ ...p.y }) },
        } as any,
        plugins: [plugin],
      } as any);
    });
    return () => charts.forEach((c) => c.destroy());
  }, []);

  return (
    <div style={{ position: 'absolute', left: 0, top: 0, width: 758, height: 981, overflow: 'hidden', background: '#fff', fontFamily: FONT, filter: 'blur(0.35px)' }}>
      {panels.map((p, i) => (
        <canvas
          key={i}
          ref={(el) => {
            refs.current[i] = el;
          }}
          width={p.box[2] - p.box[0]}
          height={p.box[3] - p.box[1]}
          style={{ position: 'absolute', left: p.box[0], top: p.box[1], width: p.box[2] - p.box[0], height: p.box[3] - p.box[1] }}
        />
      ))}
      {letters.map(([s, x, y]) => (
        <div key={s} style={{ position: 'absolute', left: x - 10, top: y - 8, width: 20, height: 16, lineHeight: '16px', textAlign: 'center', fontSize: 12, fontWeight: 700, color: '#000' }}>
          {s}
        </div>
      ))}
    </div>
  );
}
